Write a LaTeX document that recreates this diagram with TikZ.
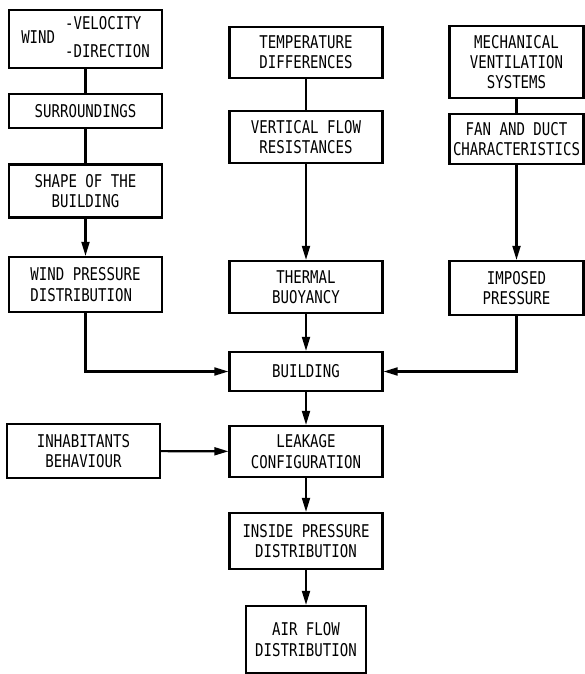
\documentclass[tikz,border=0pt]{standalone}
\usepackage{fontspec}
\setmainfont{DejaVu Sans Mono}[FakeStretch=0.8]
\usepackage{tikz}
\usetikzlibrary{arrows.meta,positioning}

\begin{document}
\begin{tikzpicture}[
  font=\fontsize{10}{11.5}\selectfont,
  box/.style={draw, line width=1.2pt, align=center, inner sep=1pt, minimum width=3.06cm, minimum height=1.06cm},
  narrow/.style={box, minimum width=2.68cm},
  line/.style={line width=1.2pt},
  arr/.style={line width=1.2pt, -{Triangle[length=8pt, width=4.5pt]}}]
\useasboundingbox (0,0) rectangle (11.68,-13.48);
% wind column
\node[box, minimum height=1.16cm] (wind) at (1.71,-0.78) {WIND\hspace{0.2cm}\begin{tabular}[c]{@{}l@{}}-VELOCITY\\[4.4pt]-DIRECTION\end{tabular}};
\node[box, minimum height=0.68cm] (surr) at (1.71,-2.22) {SURROUNDINGS};
\node[box] (shape)  at (1.71,-3.82) {SHAPE OF THE\\BUILDING};
\node[box, minimum height=1.10cm, align=left] (wpress) at (1.71,-5.69) {WIND PRESSURE\\DISTRIBUTION};
% temperature column
\node[box, minimum height=1.02cm] (temp) at (6.12,-1.05) {TEMPERATURE\\DIFFERENCES};
\node[box, minimum height=1.04cm] (vflow) at (6.12,-2.74) {VERTICAL FLOW\\RESISTANCES};
\node[box, minimum height=1.04cm] (therm) at (6.12,-5.74) {THERMAL\\BUOYANCY};
% mechanical column
\node[narrow, minimum height=1.44cm] (mech) at (10.33,-1.24) {MECHANICAL\\VENTILATION\\SYSTEMS};
\node[narrow, minimum height=1.00cm] (fan) at (10.33,-2.78) {FAN AND DUCT\\CHARACTERISTICS};
\node[narrow, minimum height=1.08cm] (imposed) at (10.33,-5.76) {IMPOSED\\PRESSURE};
% building and below
\node[box, minimum height=0.78cm] (bldg) at (6.12,-7.43) {BUILDING};
\node[box, minimum height=1.08cm] (inhab) at (1.67,-9.02) {INHABITANTS\\BEHAVIOUR};
\node[box, minimum height=1.02cm] (leak) at (6.12,-9.03) {LEAKAGE\\CONFIGURATION};
\node[box, minimum height=1.12cm] (inside) at (6.12,-10.82) {INSIDE PRESSURE\\DISTRIBUTION};
\node[box, minimum width=2.40cm, minimum height=1.34cm] (airflow) at (6.12,-12.79) {AIR FLOW\\DISTRIBUTION};
% connectors
\draw[line] (wind) -- (surr);
\draw[line] (surr) -- (shape);
\draw[arr] (shape) -- (wpress);
\draw[line] (temp) -- (vflow);
\draw[arr] (vflow) -- (therm);
\draw[line] (mech) -- (fan);
\draw[arr] (fan) -- (imposed);
\draw[arr] (wpress.south) |- (bldg.west);
\draw[arr] (therm) -- (bldg);
\draw[arr] (imposed.south) |- (bldg.east);
\draw[arr] (bldg) -- (leak);
\draw[arr] (inhab) -- (leak);
\draw[arr] (leak) -- (inside);
\draw[arr] (inside) -- (airflow);
\end{tikzpicture}
\end{document}
